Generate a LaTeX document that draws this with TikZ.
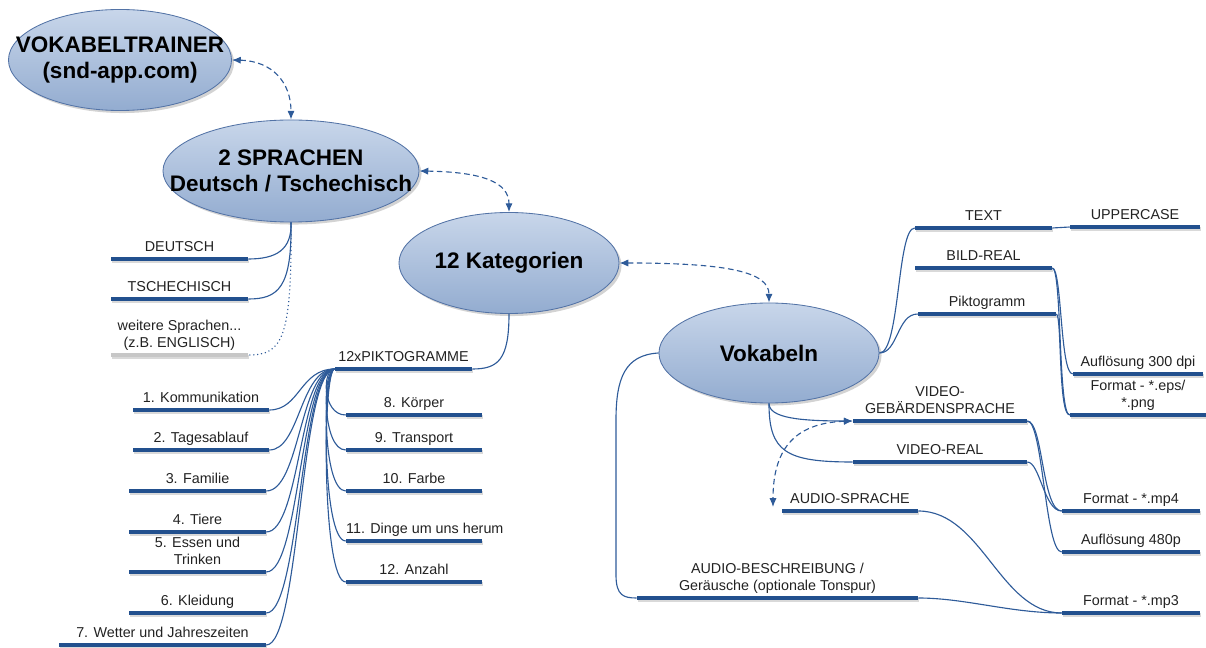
\documentclass[tikz,border=0pt]{standalone}
\usepackage{fontspec}
\setmainfont{Liberation Sans}
\usetikzlibrary{shapes.geometric,shadows,arrows.meta}

\definecolor{barblue}{HTML}{22508E}
\definecolor{linkblue}{HTML}{2E5B99}
\definecolor{topicedge}{HTML}{5373A6}
\definecolor{topictop}{HTML}{C8D6EA}
\definecolor{topicbot}{HTML}{93ACD0}
\definecolor{leaftext}{HTML}{222222}

\tikzset{
	topic/.style={ellipse, draw=topicedge, line width=0.6pt, top color=topictop, bottom color=topicbot,
		inner sep=0pt, drop shadow={shadow xshift=1.8pt, shadow yshift=-1.8pt, opacity=0.35}},
	topictext/.style={inner sep=0pt, align=center, font=\fontsize{16}{18.5}\selectfont\bfseries},
	leaf/.style={rectangle, fill=barblue, inner sep=0pt, minimum height=0.1cm, minimum width=#1*0.025cm,
		drop shadow={shadow xshift=0.8pt, shadow yshift=-1.1pt, opacity=0.3}},
	lbl/.style={inner sep=0pt, align=center, text=leaftext, text depth=0.25em, font=\fontsize{10.2}{12}\selectfont},
	link/.style={draw=linkblue, line width=0.8pt},
	tip/.style={-{Latex[length=0.22cm,width=0.18cm]}},
	dasharrow/.style={link, dash pattern=on 4pt off 2.5pt, {Latex[length=0.22cm,width=0.18cm]}-{Latex[length=0.22cm,width=0.18cm]}}
}

\begin{document}
\begin{tikzpicture}[x=0.025cm, y=-0.025cm, label distance=1.3pt]
	\useasboundingbox (0,0) rectangle (1206,648);

	% main topics
	\node[topic, minimum width=5.575cm, minimum height=2.525cm,
		label={[topictext]center:{VOKABELTRAINER\\(snd-app.com)}}] (vt) at (120,60) {};
	\node[topic, minimum width=6.4cm, minimum height=2.55cm,
		label={[topictext]center:{2 SPRACHEN\\Deutsch / Tschechisch}}] (sp) at (291,171) {};
	\node[topic, minimum width=5.5cm, minimum height=2.525cm,
		label={[topictext]center:12 Kategorien}] (kat) at (509,263) {};
	\node[topic, minimum width=5.5cm, minimum height=2.5cm,
		label={[topictext]center:Vokabeln}] (vok) at (769,353) {};

	% languages
	\node[leaf=137, label={[lbl]above:DEUTSCH}] (de) at (179.5,259) {};
	\node[leaf=137, label={[lbl]above:TSCHECHISCH}] (cz) at (179.5,299) {};
	\node[leaf=137, fill=black!22, label={[lbl]above:{weitere Sprachen...\\(z.B. ENGLISCH)}}] (more) at (179.5,355) {};

	% categories
	\node[leaf=137, label={[lbl]above:12xPIKTOGRAMME}] (pikto) at (403.5,369) {};
	\node[leaf=136, label={[lbl]above:1. Kommunikation}] (k1) at (201,410) {};
	\node[leaf=136, label={[lbl]above:2. Tagesablauf}] (k2) at (201,450) {};
	\node[leaf=137, label={[lbl]above:3. Familie}] (k3) at (197.5,491) {};
	\node[leaf=137, label={[lbl]above:4. Tiere}] (k4) at (197.5,532) {};
	\node[leaf=137, label={[lbl]above:{5. Essen und\\Trinken}}] (k5) at (197.5,572) {};
	\node[leaf=137, label={[lbl]above:6. Kleidung}] (k6) at (197.5,613) {};
	\node[leaf=207, label={[lbl]above:7. Wetter und Jahreszeiten}] (k7) at (162.5,645) {};
	\node[leaf=136, label={[lbl]above:8. Körper}] (k8) at (414,415) {};
	\node[leaf=136, label={[lbl]above:9. Transport}] (k9) at (414,450) {};
	\node[leaf=136, label={[lbl]above:10. Farbe}] (k10) at (414,491) {};
	\node[leaf=136, label={[lbl,xshift=0.27cm]above:11. Dinge um uns herum}] (k11) at (414,541) {};
	\node[leaf=136, label={[lbl]above:12. Anzahl}] (k12) at (414,582) {};

	% vocabulary items
	\node[leaf=137, label={[lbl]above:TEXT}] (txt) at (983.5,228) {};
	\node[leaf=130, label={[lbl]above:UPPERCASE}] (upper) at (1135,227) {};
	\node[leaf=137, label={[lbl]above:BILD-REAL}] (bild) at (983.5,268) {};
	\node[leaf=138, label={[lbl]above:Piktogramm}] (pikt) at (987,314) {};
	\node[leaf=130, label={[lbl]above:Auflösung 300 dpi}] (dpi) at (1138,374) {};
	\node[leaf=136, label={[lbl]above:{Format - *.eps/\\*.png}}] (fmtimg) at (1138,415) {};
	\node[leaf=174, label={[lbl]above:{VIDEO-\\GEBÄRDENSPRACHE}}] (gb) at (940,421) {};
	\node[leaf=174, label={[lbl]above:VIDEO-REAL}] (vreal) at (940,462) {};
	\node[leaf=138, label={[lbl]above:Format - *.mp4}] (mp4) at (1131,511) {};
	\node[leaf=138, label={[lbl]above:Auflösung 480p}] (res) at (1131,552) {};
	\node[leaf=136, label={[lbl]above:AUDIO-SPRACHE}] (ausp) at (850,511) {};
	\coordinate (auspin) at (773,507);
	\node[leaf=281, label={[lbl]above:{AUDIO-BESCHREIBUNG /\\Geräusche (optionale Tonspur)}}] (audesc) at (777.5,598) {};
	\node[leaf=138, label={[lbl]above:Format - *.mp3}] (mp3) at (1131,613) {};

	% dashed links between topics
	\draw[dasharrow] (vt.east) .. controls (272,61) and (291,82) .. (sp.north);
	\draw[dasharrow] (sp.east) .. controls (482,172) and (509,182) .. (kat.north);
	\draw[dasharrow] (kat.east) .. controls (728,263) and (769,272) .. (vok.north);
	\draw[dasharrow] (gb.west) .. controls (792,423) and (773,452) .. (auspin);

	% languages
	\draw[link] (sp.south) .. controls (292,250) and (276,259) .. (de.east);
	\draw[link] (sp.south) .. controls (292,288) and (278,299) .. (cz.east);
	\draw[link, dotted] (sp.south) .. controls (292,340) and (282,355) .. (more.east);

	% categories
	\draw[link] (kat.south) .. controls (509,360) and (498,369) .. (pikto.east);
	\draw[link] (pikto.west) .. controls (300,369) and (300,410) .. (k1.east);
	\draw[link] (pikto.west) .. controls (300,369) and (300,450) .. (k2.east);
	\draw[link] (pikto.west) .. controls (300,369) and (300,491) .. (k3.east);
	\draw[link] (pikto.west) .. controls (300,369) and (300,532) .. (k4.east);
	\draw[link] (pikto.west) .. controls (300,369) and (300,572) .. (k5.east);
	\draw[link] (pikto.west) .. controls (300,369) and (300,613) .. (k6.east);
	\draw[link] (pikto.west) .. controls (300,369) and (300,645) .. (k7.east);
	\draw[link] (pikto.west) .. controls (322,369) and (322,415) .. (k8.west);
	\draw[link] (pikto.west) .. controls (322,369) and (322,450) .. (k9.west);
	\draw[link] (pikto.west) .. controls (322,369) and (322,491) .. (k10.west);
	\draw[link] (pikto.west) .. controls (322,369) and (322,541) .. (k11.west);
	\draw[link] (pikto.west) .. controls (322,369) and (322,582) .. (k12.west);

	% vocabulary
	\draw[link] (vok.east) .. controls (900,353) and (897,228) .. (txt.west);
	\draw[link] (vok.east) .. controls (898,353) and (897,314) .. (pikt.west);
	\draw[link] (txt.east) -- (upper.west);
	\draw[link] (bild.east) .. controls (1062,268) and (1060,374) .. (dpi.west);
	\draw[link] (bild.east) .. controls (1062,268) and (1058,415) .. (fmtimg.west);
	\draw[link] (pikt.east) .. controls (1062,314) and (1058,415) .. (fmtimg.west);
	\draw[link, tip] (vok.south) .. controls (769,418) and (800,421) .. (gb.west);
	\draw[link] (vok.south) .. controls (769,452) and (786,462) .. (vreal.west);
	\draw[link] (gb.east) .. controls (1043,421) and (1042,511) .. (mp4.west);
	\draw[link] (gb.east) .. controls (1043,421) and (1045,552) .. (res.west);
	\draw[link] (vreal.east) .. controls (1040,462) and (1044,511) .. (mp4.west);
	\draw[link] (ausp.east) .. controls (982,511) and (1000,613) .. (mp3.west);
	\draw[link] (audesc.east) .. controls (965,598) and (1010,613) .. (mp3.west);
	\draw[link] (vok.west) .. controls (625,355) and (616,378) .. (616,420) -- (616,575)
		.. controls (616,596) and (624,598) .. (audesc.west);

\end{tikzpicture}
\end{document}
